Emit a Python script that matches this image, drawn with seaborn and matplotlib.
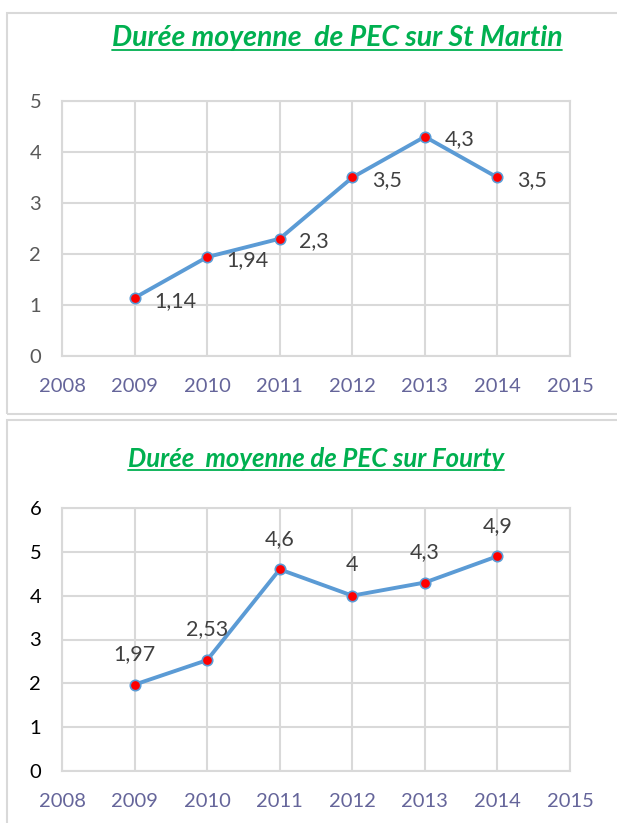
import matplotlib
matplotlib.use("Agg")
import matplotlib.pyplot as plt
from matplotlib.lines import Line2D
from matplotlib.patches import Rectangle
import seaborn as sns
import pandas as pd

years = [2009, 2010, 2011, 2012, 2013, 2014]
st_martin = [1.14, 1.94, 2.3, 3.5, 4.3, 3.5]
fourty = [1.97, 2.53, 4.6, 4.0, 4.3, 4.9]
st_martin_labels = ["1,14", "1,94", "2,3", "3,5", "4,3", "3,5"]
fourty_labels = ["1,97", "2,53", "4,6", "4", "4,3", "4,9"]
x_ticks = list(range(2008, 2016))

title_top = "Durée moyenne  de PEC sur St Martin"
title_bottom = "Durée  moyenne de PEC sur Fourty"

sns.set_style("white")
plt.rcParams['font.family'] = ['Lato', 'DejaVu Sans']

W, H = 617, 823
fig = plt.figure(figsize=(W / 100, H / 100), dpi=100)

# chart boxes
for (y0, y1) in [(13, 414), (420, 830)]:
    fig.add_artist(Rectangle((7 / W, 1 - y1 / H), (650 - 7) / W, (y1 - y0) / H,
                             transform=fig.transFigure, fill=False,
                             edgecolor="#D9D9D9", lw=1.5))

line_c = "#5B9BD5"
grid_c = "#D9D9D9"
green = "#00B050"


def draw(ax, vals, labels, ymax, label_pos, ytick_color):
    df = pd.DataFrame({"year": years, "value": vals})
    sns.lineplot(data=df, x="year", y="value", ax=ax, color=line_c, lw=2.8,
                 marker="o", markersize=7.5, markerfacecolor="red",
                 markeredgecolor=line_c, markeredgewidth=1.2)
    ax.set_xlim(2008, 2015)
    ax.set_ylim(0, ymax)
    ax.set_xticks(x_ticks)
    ax.set_yticks(range(0, ymax + 1))
    ax.grid(True, color=grid_c, lw=1.5)
    for s in ax.spines.values():
        s.set_color(grid_c)
        s.set_linewidth(1.5)
    ax.set_xlabel("")
    ax.set_ylabel("")
    ax.tick_params(axis="x", length=0, pad=16, labelsize=14.5, labelcolor="#65659A")
    ax.tick_params(axis="y", length=0, pad=15, labelsize=14.5, labelcolor=ytick_color)
    for x, v, t in zip(years, vals, labels):
        if label_pos == "right":
            ax.annotate(t, (x, v), xytext=(14, -2), textcoords="offset points",
                        ha="left", va="center", fontsize=15.5, color="#404040")
        else:
            ax.annotate(t, (x, v), xytext=(0, 22), textcoords="offset points",
                        ha="center", va="center", fontsize=15.5, color="#404040")


ax1 = fig.add_axes([62 / W, 1 - 356 / H, (570 - 62) / W, (356 - 101) / H])
draw(ax1, st_martin, st_martin_labels, 5, "right", "#595959")

ax2 = fig.add_axes([62 / W, 1 - 771 / H, (570 - 62) / W, (771 - 508) / H])
draw(ax2, fourty, fourty_labels, 6, "above", "black")

t1 = fig.text(337 / W, 1 - 38 / H, title_top, ha="center", va="center",
              fontsize=20.5, fontweight="bold", fontstyle="italic", color=green)
t2 = fig.text(316 / W, 1 - 459 / H, title_bottom, ha="center", va="center",
              fontsize=18.5, fontweight="bold", fontstyle="italic", color=green)

# underline the titles
fig.canvas.draw()
r = fig.canvas.get_renderer()
for t in (t1, t2):
    bb = t.get_window_extent(r)
    y = bb.y0 + 1
    fig.add_artist(Line2D([bb.x0 / W, bb.x1 / W], [y / H, y / H],
                          transform=fig.transFigure, color=green, lw=1.3))

fig.savefig("out.png", dpi=100)
